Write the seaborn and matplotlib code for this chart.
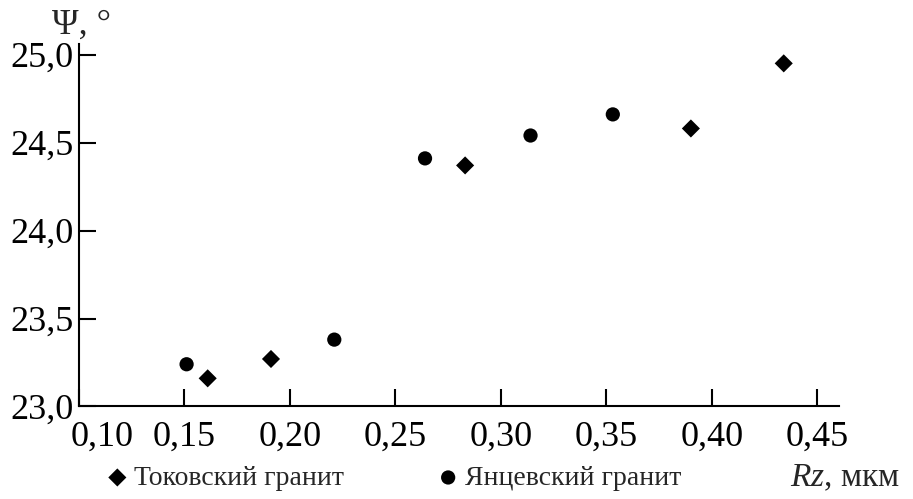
import numpy as np
import pandas as pd
import seaborn as sns
import matplotlib
import matplotlib.pyplot as plt
from matplotlib.transforms import ScaledTranslation

# data
tok_rz = [0.161, 0.191, 0.283, 0.390, 0.434]
tok_psi = [23.16, 23.27, 24.37, 24.58, 24.95]
yan_rz = [0.151, 0.221, 0.264, 0.314, 0.353]
yan_psi = [23.24, 23.38, 24.41, 24.54, 24.66]

tok_name = 'Токовский гранит'
yan_name = 'Янцевский гранит'

xticks = [0.10, 0.15, 0.20, 0.25, 0.30, 0.35, 0.40, 0.45]
xtick_labels = ['0,10', '0,15', '0,20', '0,25', '0,30', '0,35', '0,40', '0,45']
yticks = [23.0, 23.5, 24.0, 24.5, 25.0]
ytick_labels = ['23,0', '23,5', '24,0', '24,5', '25,0']

sns.set_style('white')
plt.rcParams['font.family'] = ['Liberation Serif', 'DejaVu Serif']
plt.rcParams['mathtext.fontset'] = 'custom'
plt.rcParams['mathtext.rm'] = 'Liberation Serif'
plt.rcParams['mathtext.it'] = 'Liberation Serif:italic'

df_tok = pd.DataFrame({'rz': tok_rz, 'psi': tok_psi})
df_yan = pd.DataFrame({'rz': yan_rz, 'psi': yan_psi})

fig = plt.figure(figsize=(9.13, 4.99), dpi=100)
ax = fig.add_axes([0.0865, 0.1854, 0.832, 0.7264])

sns.scatterplot(data=df_tok, x='rz', y='psi', marker='D', s=85, color='black',
                edgecolor='none', label=tok_name, ax=ax)
sns.scatterplot(data=df_yan, x='rz', y='psi', marker='o', s=105, color='black',
                edgecolor='none', label=yan_name, ax=ax)

ax.set_xlim(0.10, 0.46)
ax.set_ylim(23.0, 25.06)
ax.set_xticks(xticks)
ax.set_xticklabels(xtick_labels)
ax.set_yticks(yticks)
ax.set_yticklabels(ytick_labels)
ax.set_xlabel('')
ax.set_ylabel('')

for side in ['top', 'right']:
    ax.spines[side].set_visible(False)
for side in ['left', 'bottom']:
    ax.spines[side].set_linewidth(1.5)
    ax.spines[side].set_color('black')

# seaborn white style hides the ticks, switch them back on
ax.tick_params(axis='both', bottom=True, left=True, direction='in', length=12,
               width=1.5, colors='black', labelsize=26)
ax.tick_params(axis='x', pad=10)
ax.tick_params(axis='y', pad=4)

# first x label sits to the right of the corner
first = ax.get_xticklabels()[0]
first.set_transform(first.get_transform() + ScaledTranslation(0.23, 0, fig.dpi_scale_trans))

ax.legend(loc='center left', bbox_to_anchor=(109 / 913, 0.042),
          bbox_transform=fig.transFigure, ncol=2, frameon=False,
          fontsize=20, handlelength=0.6, handletextpad=0.3,
          columnspacing=3.45, borderpad=0, borderaxespad=0, markerscale=1.0)

fig.text(790 / 913, 0.042, '$Rz$, мкм', fontsize=24, va='center', ha='left')
fig.text(52 / 913, 1 - 25 / 499, 'Ψ, °', fontsize=26, va='center', ha='left')

fig.savefig('out.png', dpi=100)
